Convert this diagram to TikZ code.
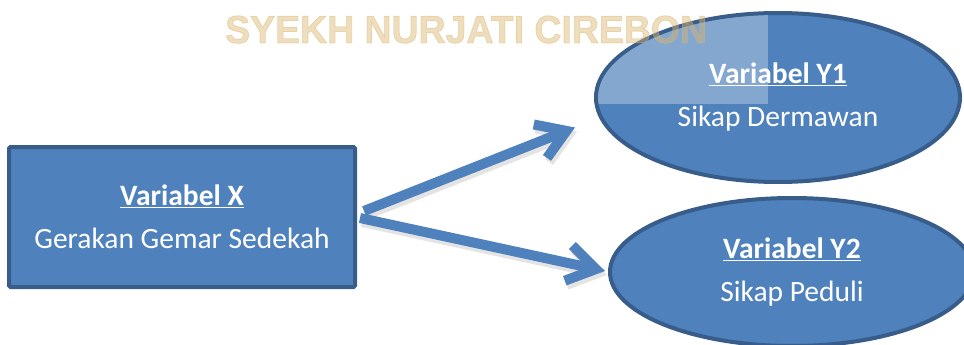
\documentclass[tikz,border=0pt]{standalone}
\usepackage{fontspec}
\setmainfont{Carlito}
\newfontfamily\wmfont[BoldFeatures={FakeBold=2}]{Liberation Sans}
\usetikzlibrary{shapes.geometric,arrows.meta,calc}
\definecolor{boxfill}{HTML}{4F81BD}
\definecolor{boxline}{HTML}{385D8A}
\definecolor{wmcol}{HTML}{D9B56E}
\tikzset{
  varshape/.style={fill=boxfill,draw=boxline,line width=4pt,text=white,align=center,
    font=\fontsize{29.5}{43}\selectfont,inner sep=0pt},
  varell/.style={varshape,ellipse},
  varbox/.style={varshape,rectangle,rounded corners=1.5pt},
  conn/.style={draw=boxfill,line width=10pt,-{Straight Barb[length=28pt,width=36pt]}},
  connshadow/.style={draw=black!35,opacity=0.3,line width=10pt,-{Straight Barb[length=28pt,width=36pt]}},
}
\begin{document}
\begin{tikzpicture}[x=1pt,y=-1pt]
\useasboundingbox (0,0) rectangle (964,345);
\node[varbox,minimum width=346pt,minimum height=140pt] (X) at (182,217)
  {\textbf{\underline{Variabel X}}\\Gerakan Gemar Sedekah};
\node[varell,minimum width=364pt,minimum height=169pt] (Y1) at (778,97.5)
  {\textbf{\underline{Variabel Y1}}\\Sikap Dermawan};
\node[varell,minimum width=364pt,minimum height=148pt] (Y2) at (792,272)
  {\textbf{\underline{Variabel Y2}}\\Sikap Peduli};
\begin{scope}
  \clip (778,97.5) ellipse [x radius=180pt, y radius=82.5pt];
  \fill[white,opacity=0.3] (590,0) rectangle (768,104);
\end{scope}
\coordinate (a1) at ($(X.east)+(7,-6)$);
\coordinate (a2) at ($(X.east)+(3,1)$);
\coordinate (e1) at ($(Y1.west)+(-19,30)$);
\coordinate (e2) at ($(Y2.west)+(-3,-1)$);
\draw[connshadow] ($(a1)+(2,4)$) -- ($(e1)+(2,4)$);
\draw[connshadow] ($(a2)+(2,4)$) -- ($(e2)+(2,4)$);
\draw[conn] (a1) -- (e1);
\draw[conn] (a2) -- (e2);
\node[text=wmcol,opacity=0.45,font=\wmfont\bfseries\fontsize{39}{40}\selectfont,inner sep=0pt,anchor=base west,xscale=0.96] (wm) at (225,43) {SYEKH NURJATI CIREBON};
\end{tikzpicture}
\end{document}
